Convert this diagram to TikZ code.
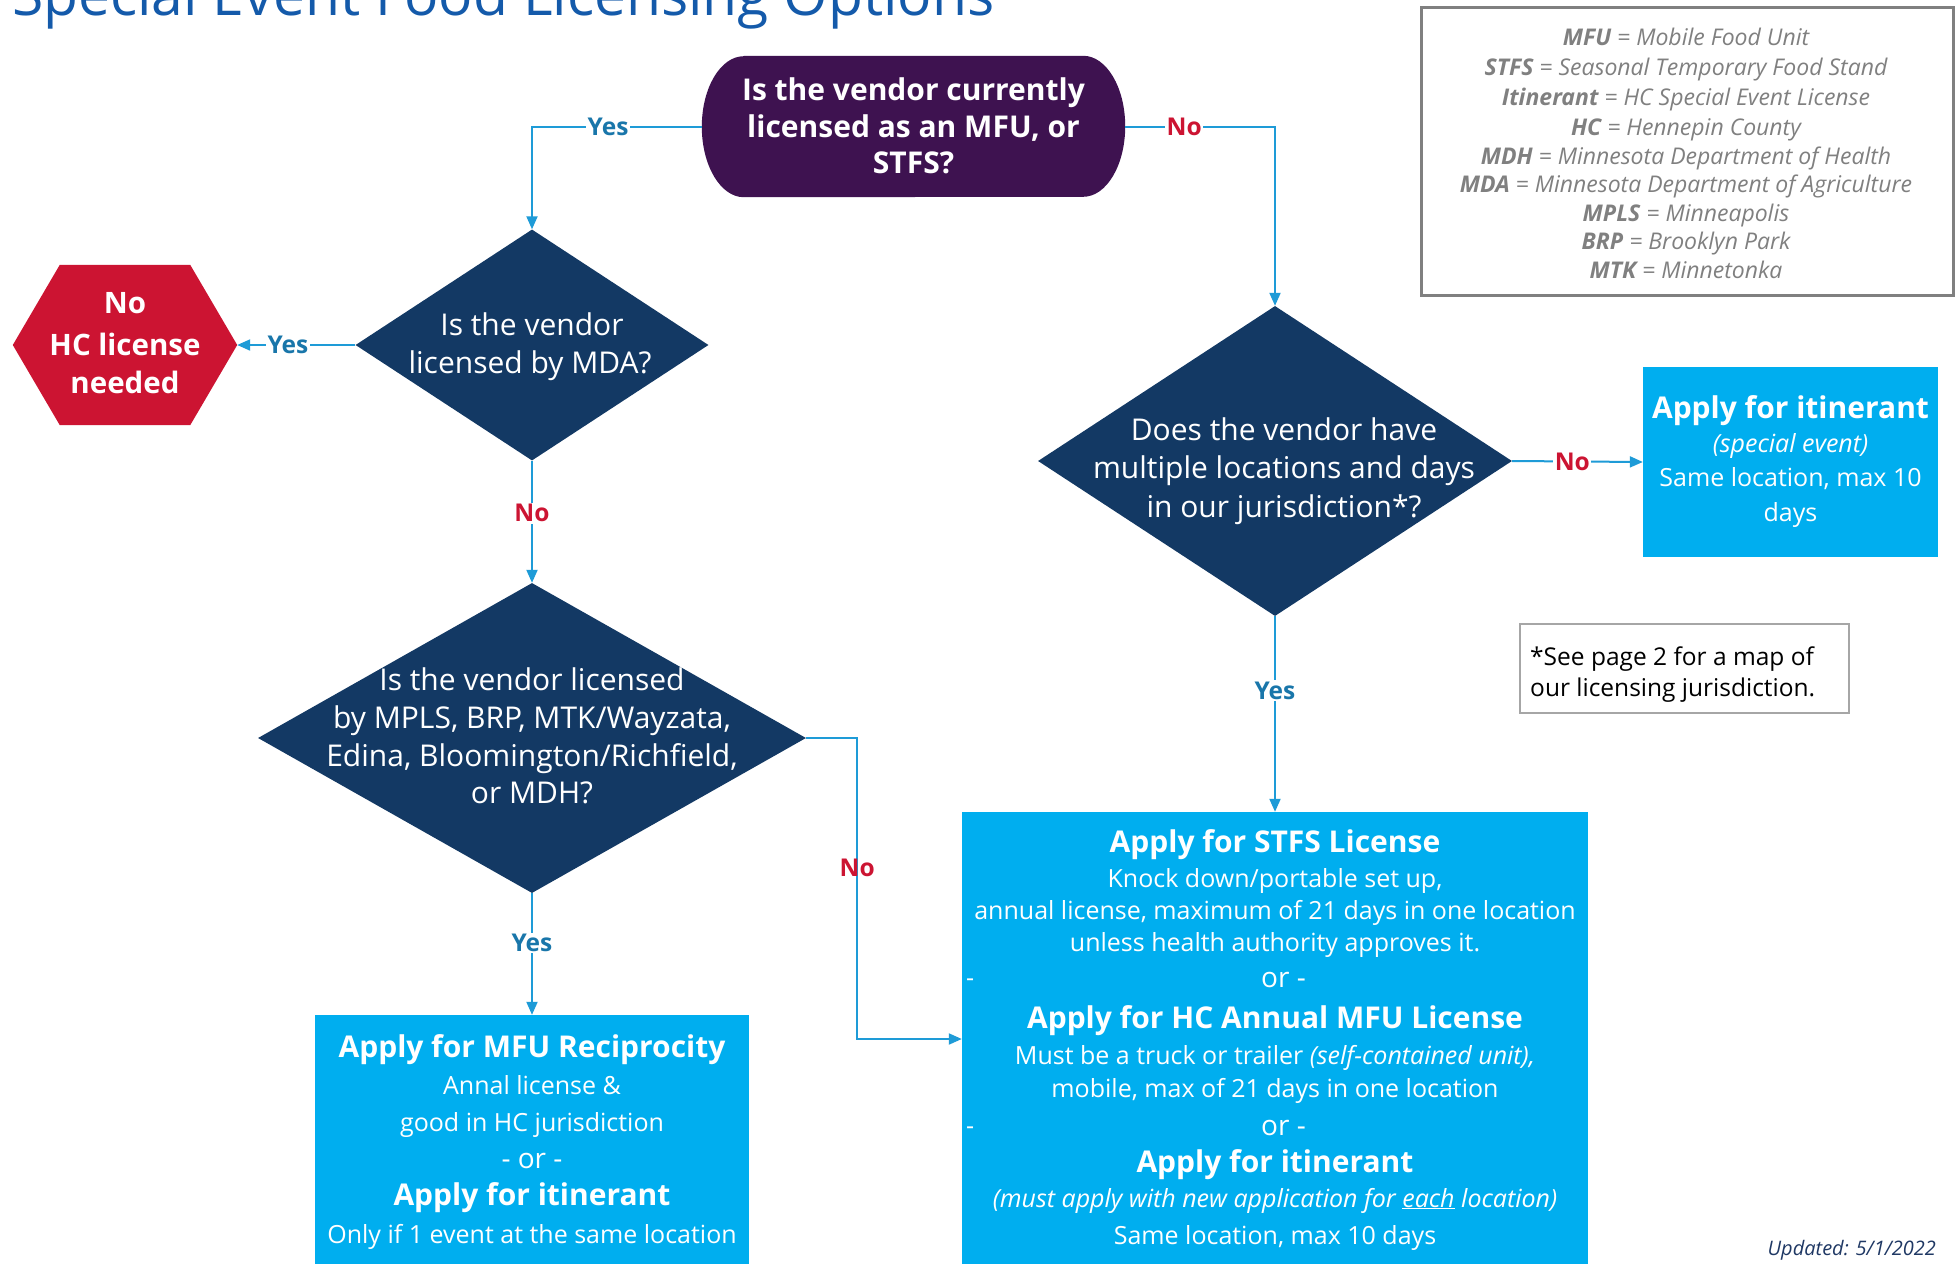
\documentclass[tikz,border=0pt]{standalone}
\usepackage{fontspec}
\setmainfont{Open Sans}
\usetikzlibrary{shapes.geometric,arrows.meta,calc}
\definecolor{navy}{RGB}{19,57,100}
\definecolor{termpurple}{RGB}{62,18,80}
\definecolor{hexred}{RGB}{204,20,50}
\definecolor{skyblue}{RGB}{0,174,239}
\definecolor{lineblue}{RGB}{30,155,215}
\definecolor{yesblue}{RGB}{25,118,170}
\definecolor{nored}{RGB}{204,20,50}
\definecolor{leggray}{RGB}{128,128,128}
\definecolor{titleblue}{RGB}{20,90,170}
\definecolor{updblue}{RGB}{31,56,100}
\definecolor{notegray}{RGB}{166,166,166}
\tikzset{
 conn/.style={draw=lineblue, line width=2pt, -{Triangle[length=13pt,width=11pt]}},
 ylbl/.style={font=\bfseries\fontsize{24.5}{28}\selectfont, text=yesblue, fill=white, inner sep=1.5pt},
 nlbl/.style={font=\bfseries\fontsize{24.5}{28}\selectfont, text=nored, fill=white, inner sep=1.5pt},
 nlblclear/.style={font=\bfseries\fontsize{24.5}{28}\selectfont, text=nored, inner sep=1.5pt},
 dia/.style={diamond, fill=navy, inner sep=0pt, draw=none},
 dtxt/.style={anchor=base, text=white, font=\fontsize{30}{36}\selectfont, inner sep=0pt},
 ttl/.style={anchor=base, text=white, font=\bfseries\fontsize{30}{36}\selectfont, inner sep=0pt},
 bodytxt/.style={anchor=base, text=white, font=\fontsize{25}{30}\selectfont, inner sep=0pt},
 ortxt/.style={anchor=base, text=white, font=\fontsize{28}{32}\selectfont, inner sep=0pt},
 boxfill/.style={rectangle, fill=skyblue, inner sep=0pt, draw=none},
 leg/.style={anchor=base, text=leggray, font=\itshape\fontsize{23}{26}\selectfont, inner sep=0pt},
 notetxt/.style={anchor=base west, text=black, font=\fontsize{24.5}{29}\selectfont, inner sep=0pt},
}
\begin{document}
\begin{tikzpicture}[x=1pt,y=-1pt]
\clip (0,0) rectangle (1958,1263);
\fill[white] (0,0) rectangle (1958,1263);

% title
\node[anchor=base west, text=titleblue, font=\fontsize{57}{60}\selectfont, inner sep=0pt] (title) at (12,16) {Special Event Food Licensing Options};

% legend
\node[rectangle, draw=leggray, line width=3pt, minimum width=532, minimum height=287, inner sep=0pt] (legend) at (1687,151.5) {};
\node[leg] (l1) at (1686,45.7) {\textbf{MFU} = Mobile Food Unit};
\node[leg] (l2) at (1686,75.7) {\textbf{STFS} = Seasonal Temporary Food Stand};
\node[leg] (l3) at (1686,105.7) {\textbf{Itinerant} = HC Special Event License};
\node[leg] (l4) at (1686,135.7) {\textbf{HC} = Hennepin County};
\node[leg] (l5) at (1686,164.7) {\textbf{MDH} = Minnesota Department of Health};
\node[leg] (l6) at (1686,192.7) {\textbf{MDA} = Minnesota Department of Agriculture};
\node[leg] (l7) at (1686,221.7) {\textbf{MPLS} = Minneapolis};
\node[leg] (l8) at (1686,249.7) {\textbf{BRP} = Brooklyn Park};
\node[leg] (l9) at (1686,278.7) {\textbf{MTK} = Minnetonka};

% terminal
\node[rectangle, minimum width=423, minimum height=141, inner sep=0pt] (term) at (913.5,126.5) {};
\fill[termpurple] ($(term.north west)+(42,0)$) -- ($(term.north east)+(-42,0)$)
  arc[start angle=90, end angle=-90, x radius=42pt, y radius=70.5pt]
  -- ($(term.south west)+(42,0)$)
  arc[start angle=270, end angle=90, x radius=42pt, y radius=70.5pt] -- cycle;
\node[ttl] (tt1) at (913.5,100.5) {Is the vendor currently};
\node[ttl] (tt2) at (913.5,137.5) {licensed as an MFU, or};
\node[ttl] (tt3) at (913.5,173.5) {STFS?};

% hexagon
\node[rectangle, minimum width=224, minimum height=160, inner sep=0pt] (hex) at (125,345) {};
\fill[hexred] (hex.west) -- ($(hex.north west)+(47,0)$) -- ($(hex.north east)+(-47,0)$) -- (hex.east)
  -- ($(hex.south east)+(-47,0)$) -- ($(hex.south west)+(47,0)$) -- cycle;
\node[ttl, font=\bfseries\fontsize{29.5}{35}\selectfont] (h1) at (125,313) {No};
\node[ttl, font=\bfseries\fontsize{29.5}{35}\selectfont] (h2) at (125,355) {HC license};
\node[ttl, font=\bfseries\fontsize{29.5}{35}\selectfont] (h3) at (125,393) {needed};

% diamonds
\node[dia, minimum width=353, minimum height=231] (d1) at (532,345) {};
\node[dtxt] (d1a) at (532,335.5) {Is the vendor};
\node[dtxt] (d1b) at (530,373.5) {licensed by MDA?};

\node[dia, minimum width=548, minimum height=310] (d2) at (532,738) {};
\node[dtxt] (d2a) at (532,690.5) {Is the vendor licensed};
\node[dtxt] (d2b) at (532,728.5) {by MPLS, BRP, MTK/Wayzata,};
\node[dtxt] (d2c) at (532,766.5) {Edina, Bloomington/Richfield,};
\node[dtxt] (d2d) at (532,803.5) {or MDH?};

\node[dia, minimum width=474, minimum height=310] (d3) at (1275,461) {};
\node[dtxt] (d3a) at (1284,440.5) {Does the vendor have};
\node[dtxt] (d3b) at (1284,478.5) {multiple locations and days};
\node[dtxt] (d3c) at (1284,517.5) {in our jurisdiction*?};

% itinerant box
\node[boxfill, minimum width=295, minimum height=190] (itin) at (1790.5,462) {};
\node[ttl] (i1) at (1790.5,418.5) {Apply for itinerant};
\node[bodytxt] (i2) at (1790.5,452) {\itshape (special event)};
\node[bodytxt] (i3) at (1790.5,486) {Same location, max 10};
\node[bodytxt] (i4) at (1790.5,521) {days};

% note
\node[rectangle, draw=notegray, line width=1.5pt, minimum width=329, minimum height=89, inner sep=0pt] (note) at (1684.5,668.5) {};
\node[notetxt] (n1) at (1530,665.5) {*See page 2 for a map of};
\node[notetxt] (n2) at (1530,696.5) {our licensing jurisdiction.};

% MFU box
\node[boxfill, minimum width=434, minimum height=252] (mfu) at (532,1141) {};
\node[ttl] (m1) at (532,1057.5) {Apply for MFU Reciprocity};
\node[bodytxt] (m2) at (532,1094) {Annal license \&};
\node[bodytxt] (m3) at (532,1131) {good in HC jurisdiction};
\node[ortxt] (m4) at (532,1168) {- or -};
\node[ttl] (m5) at (532,1205.5) {Apply for itinerant};
\node[bodytxt] (m6) at (532,1243) {Only if 1 event at the same location};

% big box
\node[boxfill, minimum width=626, minimum height=454] (big) at (1275,1039) {};
\node[ttl] (b1) at (1275,852.5) {Apply for STFS License};
\node[bodytxt] (b2) at (1275,887) {Knock down/portable set up,};
\node[bodytxt] (b3) at (1275,919) {annual license, maximum of 21 days in one location};
\node[bodytxt] (b4) at (1275,951) {unless health authority approves it.};
\node[bodytxt, anchor=base west] (b5a) at (966,986) {-};
\node[ortxt, anchor=base west] (b5b) at (1261,987) {or -};
\node[ttl] (b6) at (1275,1028.5) {Apply for HC Annual MFU License};
\node[bodytxt] (b7) at (1275,1064) {Must be a truck or trailer \textit{(self-contained unit),}};
\node[bodytxt] (b8) at (1275,1097) {mobile, max of 21 days in one location};
\node[bodytxt, anchor=base west] (b9a) at (966,1134) {-};
\node[ortxt, anchor=base west] (b9b) at (1261,1135) {or -};
\node[ttl] (b10) at (1275,1172.5) {Apply for itinerant};
\node[bodytxt] (b11) at (1275,1207) {\itshape (must apply with new application for \underline{each} location)};
\node[bodytxt] (b12) at (1275,1244) {Same location, max 10 days};

% updated
\node[anchor=base east, text=updblue, font=\itshape\fontsize{20}{23}\selectfont, inner sep=0pt] (upd) at (1936,1255) {Updated: 5/1/2022};

% connectors
\draw[conn] (term.west) -| node[pos=0.276, ylbl] {Yes} (d1.north);
\draw[conn] (term.east) -| node[pos=0.197, nlbl] {No} (d3.north);
\draw[conn] (d1.west) -- node[pos=0.57, ylbl] {Yes} (hex.east);
\draw[conn] (d1.south) -- node[pos=0.43, nlbl] {No} (d2.north);
\draw[conn] (d2.south) -- node[pos=0.41, ylbl] {Yes} (mfu.north);
\draw[conn] (d2.east) -- ++(51,0) |- node[pos=0.215, nlblclear] {No} (big.west);
\draw[conn] (d3.east) -- node[pos=0.46, nlbl] {No} (itin.west);
\draw[conn] (d3.south) -- node[pos=0.38, ylbl] {Yes} (big.north);
\end{tikzpicture}
\end{document}
